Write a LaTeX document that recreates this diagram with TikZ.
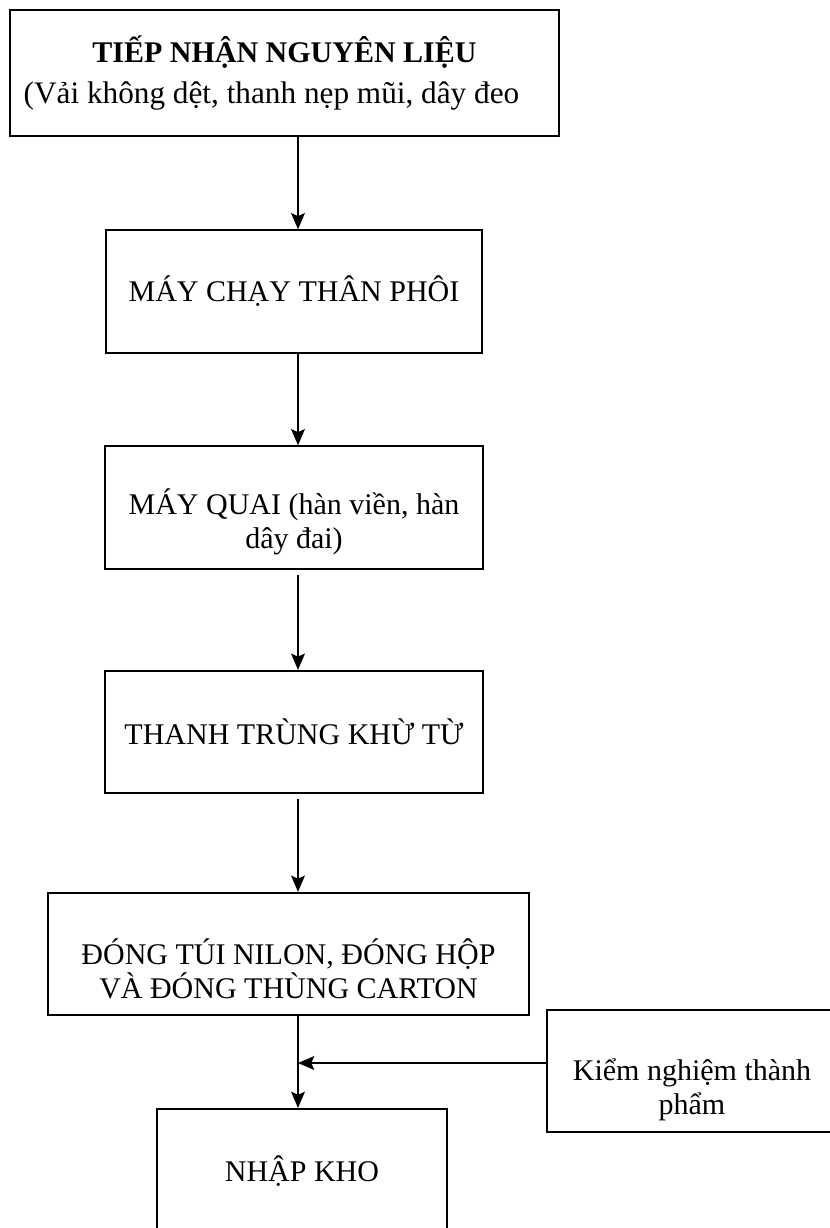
\documentclass[tikz,border=0pt]{standalone}
\usepackage{fontspec}
\setmainfont{Liberation Serif}
\usetikzlibrary{arrows.meta}
\newcommand{\topgap}[1]{\rule{0pt}{#1}}
\begin{document}
\begin{tikzpicture}
    [x=0.4pt,y=-0.4pt,
     box/.style={draw,line width=0.7pt,inner sep=0pt,align=center,minimum height=49pt,
       font=\fontsize{12}{13.5}\selectfont},
     post/.style={->,>={Stealth[length=6.5pt,width=5.5pt,inset=1.2pt]},line width=0.7pt}]
    \useasboundingbox (0,0) rectangle (830,1228);
    \clip (0,0) rectangle (830,1228);
    \coordinate (spine) at (298,0);
    \node [box,minimum width=219.6pt,minimum height=50.4pt] (nhan) at (284.5,73)
      {\textbf{TIẾP NHẬN NGUYÊN LIỆU}\\[3pt]{\fontsize{12.5}{14}\selectfont\hspace*{-10.4pt}(Vải không dệt, thanh nẹp mũi, dây đeo}};
    \node [box,minimum width=150.4pt] (phoi) at (294,291.5) {MÁY CHẠY THÂN PHÔI};
    \node [box,minimum width=151.2pt] (quai) at (294,507.5)
      {\topgap{22pt}MÁY QUAI (hàn viền, hàn\\dây đai)};
    \node [box,minimum width=151.2pt] (trung) at (294,732) {THANH TRÙNG KHỪ TỪ};
    \node [box,minimum width=192.4pt] (dong) at (288.5,954)
      {\topgap{22pt}ĐÓNG TÚI NILON, ĐÓNG HỘP\\VÀ ĐÓNG THÙNG CARTON};
    \node [box,minimum width=116pt,minimum height=49.6pt,anchor=north] (kho) at (302,1108) {NHẬP KHO};
    \node [box,minimum width=116pt] (kiem) at (692,1071) {\topgap{24pt}Kiểm nghiệm thành\\phẩm};
    \coordinate (j) at (298,1063);
    % main line
    \draw [post] (nhan.south -| spine) -- (phoi.north -| spine);
    \draw [post] (phoi.south -| spine) -- (quai.north -| spine);
    \draw [post,shorten <=2pt] (quai.south -| spine) -- (trung.north -| spine);
    \draw [post,shorten <=2pt] (trung.south -| spine) -- (dong.north -| spine);
    \draw [post] (dong.south -| spine) -- (kho.north -| spine);
    \draw [post] (j -| kiem.west) -- (j);
\end{tikzpicture}
\end{document}
